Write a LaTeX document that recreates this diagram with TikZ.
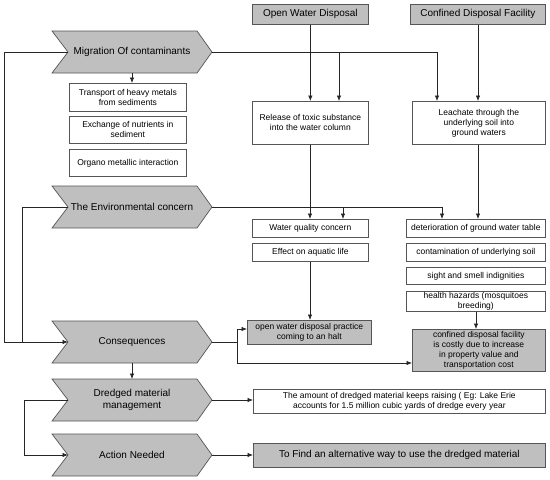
\documentclass[tikz,border=0pt]{standalone}
\usepackage{fontspec}
\setmainfont{Liberation Sans}
\usetikzlibrary{arrows.meta}
\definecolor{fillg}{HTML}{BFBFBF}
\definecolor{edge}{HTML}{555555}
\tikzset{
  conn/.style={draw=black!85, line width=0.7pt},
  arr/.style={conn, -{Latex[length=5.5pt,width=4.5pt]}},
  chevshape/.style={draw=edge, fill=fillg, line width=0.7pt},
  chevtext/.style={font=\fontsize{10}{12}\selectfont, align=center, inner sep=0pt},
  wbox/.style={draw=edge, line width=0.7pt, fill=white, align=center, font=\fontsize{8.5}{10}\selectfont, inner sep=1pt},
  gbox/.style={wbox, fill=fillg},
  topbox/.style={wbox, fill=fillg, font=\fontsize{10}{12}\selectfont},
}
\newcommand\mychev[3]{%
  \path[chevshape] (52,#2) -- (197,#2) -- (212,#2+21) -- (197,#2+42) -- (52,#2+42) -- (68,#2+21) -- cycle;
  \coordinate (#1-n) at (68,#2+21);
  \coordinate (#1-t) at (212,#2+21);
  \coordinate (#1-b) at (132,#2+42);
  \coordinate (#1-top) at (132,#2);
  \node[chevtext] (#1) at (132,#2+21) {#3};
}
\newcommand\boxat[6]{% style, name, x1, y1, x2, y2 ; text after
  \node[#1, minimum width=#5-#3, minimum height=#6-#4, anchor=north west] (#2) at (#3,#4)}
\begin{document}
\begin{tikzpicture}[x=1pt,y=-1pt]
\useasboundingbox (0,0) rectangle (550,480);
% chevrons
\mychev{mig}{31}{Migration Of contaminants}
\mychev{env}{186}{The Environmental concern}
\mychev{con}{321}{Consequences}
\mychev{dre}{379}{Dredged material\\management}
\mychev{act}{434}{Action Needed}
% top boxes
\boxat{topbox}{owd}{252}{4}{368}{24} {Open Water Disposal};
\boxat{topbox}{cdf}{410}{4}{545}{24} {Confined Disposal Facility};
% left boxes
\boxat{wbox}{tr}{69}{83}{186}{111} {Transport of heavy metals\\from sediments};
\boxat{wbox}{ex}{69}{116}{186}{143} {Exchange of nutrients in\\sediment};
\boxat{wbox}{or}{69}{149}{186}{176} {Organo metallic interaction};
% middle column
\boxat{wbox}{rel}{252}{101}{368}{144} {Release of toxic substance\\into the water column};
\boxat{wbox}{wq}{252}{219}{368}{237} {Water quality concern};
\boxat{wbox}{eff}{252}{243}{368}{261} {Effect on aquatic life};
\boxat{gbox}{halt}{247}{320}{371}{344} {open water disposal practice\\coming to an halt};
% right column
\boxat{wbox}{lea}{412}{101}{545}{144} {Leachate through the\\underlying soil into\\ground waters};
\boxat{wbox}{det}{406}{219}{545}{237} {deterioration of ground water table};
\boxat{wbox}{cont}{406}{243}{545}{261} {contamination of underlying soil};
\boxat{wbox}{sig}{406}{267}{545}{284} {sight and smell indignities};
\boxat{wbox}{hea}{406}{291}{545}{310} {health hazards (mosquitoes\\breeding)};
\boxat{gbox}{cost}{412}{329}{545}{371} {confined disposal facility\\is costly due to increase\\in property value and\\transportation cost};
% bottom boxes
\boxat{wbox}{amt}{253}{389}{545}{413} {The amount of dredged material keeps raising ( Eg: Lake Erie\\accounts for 1.5 million cubic yards of dredge every year};
\boxat{gbox}{find}{253}{443}{545}{467} {\fontsize{10}{12}\selectfont To Find an alternative way to use the dredged material};
% connectors
\draw[arr] (mig-b) -- (tr.north -| mig-b);
\draw[arr] (con-b) -- (dre-top);
\coordinate (lx) at (4,0);
\coordinate (lx2) at (22,0);
\draw[conn] (mig-n) -- (mig-n -| lx) -- (con-n -| lx);
\draw[arr] (env-n) -- (env-n -| lx2) -- (con-n -| lx2) -- (con-n);
\draw[conn] (con-n -| lx) -- (con-n -| lx2);
% migration line across
\coordinate (mx1) at (339,0);
\coordinate (mx2) at (437,0);
\draw[conn] (mig-t) -- (mig-t -| mx2);
\draw[arr] (mig-t -| mx2) -- (lea.north -| mx2);
\draw[arr] (mig-t -| mx1) -- (rel.north -| mx1);
\draw[arr] (owd) -- (rel);
\draw[arr] (cdf.south -| 478,0) -- (lea.north -| 478,0);
% environmental line
\coordinate (ex1) at (343,0);
\coordinate (ex2) at (442,0);
\draw[conn] (env-t) -- (env-t -| ex2);
\draw[arr] (env-t -| ex2) -- (det.north -| ex2);
\draw[arr] (env-t -| ex1) -- (wq.north -| ex1);
\draw[arr] (rel.south -| 310,0) -- (wq.north -| 310,0);
\draw[arr] (lea.south -| 478,0) -- (det.north -| 478,0);
\draw[arr] (eff.south -| 310,0) -- (halt.north -| 310,0);
\draw[arr] (hea.south -| 476,0) -- (cost.north -| 476,0);
% consequences
\coordinate (cx) at (237,0);
\draw[conn] (con-t) -- (con-t -| cx);
\draw[arr] (con-t -| cx) -- (cx |- 0,329) -- (halt.west |- 0,329);
\draw[arr] (con-t -| cx) -- (cx |- 0,363) -- (cost.west |- 0,363);
% dredged / action
\coordinate (dx) at (24,0);
\draw[arr] (dre-n) -- (dre-n -| dx) -- (act-n -| dx) -- (act-n);
\draw[arr] (dre-t) -- (amt.west |- dre-t);
\draw[arr] (act-t) -- (find.west |- act-t);
\end{tikzpicture}
\end{document}
